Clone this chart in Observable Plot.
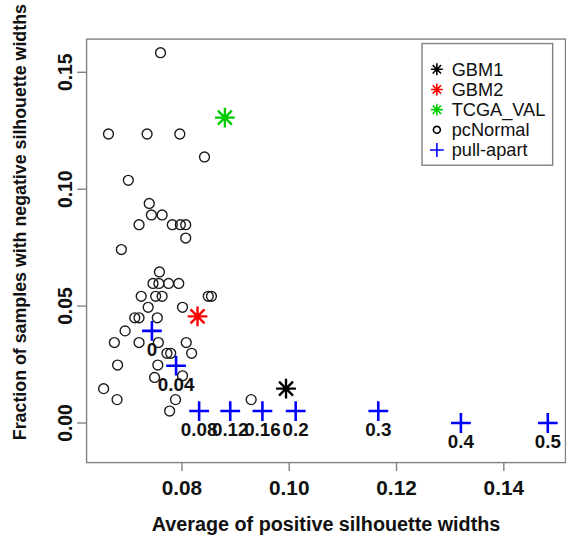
<!DOCTYPE html>
<html><head><meta charset="utf-8">
<script src="https://cdn.jsdelivr.net/npm/d3@7"></script>
<script src="https://cdn.jsdelivr.net/npm/@observablehq/plot@0.6"></script>
<style>html,body{margin:0;padding:0;background:#fff;overflow:hidden;} svg{display:block}</style>
</head><body><div id="chart"></div>
<script>
// ---- data ----
const pcNormalX = [0.0760,0.0663,0.0735,0.0796,0.0842,0.0700,0.0739,0.0743,0.0763,0.0720,0.0782,0.0797,0.0807,0.0807,0.0687,0.0758,0.0746,0.0757,0.0775,0.0794,0.0724,0.0751,0.0763,0.0849,0.0855,0.0737,0.0801,0.0712,0.0720,0.0754,0.0694,0.0674,0.0720,0.0756,0.0808,0.0772,0.0779,0.0818,0.0680,0.0755,0.0749,0.0801,0.0654,0.0679,0.0788,0.0777,0.0929];
const pcNormalY = [0.1584,0.1236,0.1236,0.1236,0.1138,0.1038,0.0939,0.0890,0.0890,0.0848,0.0848,0.0848,0.0848,0.0791,0.0742,0.0646,0.0597,0.0597,0.0597,0.0597,0.0542,0.0542,0.0542,0.0542,0.0542,0.0495,0.0495,0.0450,0.0450,0.0450,0.0394,0.0344,0.0344,0.0344,0.0344,0.0298,0.0298,0.0298,0.0248,0.0248,0.0195,0.0202,0.0147,0.0100,0.0100,0.0051,0.0100];
const pullApartX = [0.0744,0.0789,0.0832,0.0890,0.0950,0.1012,0.1166,0.1320,0.1482];
const pullApartY = [0.0394,0.0245,0.0051,0.0051,0.0051,0.0051,0.0051,0.0000,0.0000];
const pullApartLabels = ["0","0.04","0.08","0.12","0.16","0.2","0.3","0.4","0.5"];
const gbmNames = ["GBM1","GBM2","TCGA_VAL"];
const gbmX = [0.0994,0.0829,0.0880];
const gbmY = [0.0147,0.0456,0.1306];
const gbmColors = ["#000000","#ff0000","#00cd00"];
const xTicks = [0.08,0.10,0.12,0.14];
const xTickLabels = ["0.08","0.10","0.12","0.14"];
const yTicks = [0.00,0.05,0.10,0.15];
const yTickLabels = ["0.00","0.05","0.10","0.15"];
const legendLabels = ["GBM1","GBM2","TCGA_VAL","pcNormal","pull-apart"];
const legendColors = ["#000000","#ff0000","#00cd00","#000000","#0000ff"];
const xTitle = "Average of positive silhouette widths";
const yTitle = "Fraction of samples with negative silhouette widths";

// ---- symbols ----
const plusSym = {draw(ctx, size){const r=Math.sqrt(size/Math.PI);ctx.moveTo(-r,0);ctx.lineTo(r,0);ctx.moveTo(0,-r);ctx.lineTo(0,r);}};
const starSym = {draw(ctx, size){const r=Math.sqrt(size/Math.PI);const d=r/Math.SQRT2;
  ctx.moveTo(-r,0);ctx.lineTo(r,0);ctx.moveTo(0,-r);ctx.lineTo(0,r);
  ctx.moveTo(-d,-d);ctx.lineTo(d,d);ctx.moveTo(-d,d);ctx.lineTo(d,-d);}};

const normals = pcNormalX.map((x,i)=>({x, y: pcNormalY[i]}));
const pulls = pullApartX.map((x,i)=>({x, y: pullApartY[i], label: pullApartLabels[i]}));
const gbms = gbmNames.map((n,i)=>({name:n, x: gbmX[i], y: gbmY[i], color: gbmColors[i]}));

const FONT = "'Liberation Sans', Arial, Helvetica, sans-serif";
const gray = "#808080";

const chart = Plot.plot({
  width: 572, height: 543,
  marginLeft: 87, marginRight: 1, marginTop: 39, marginBottom: 76,
  x: {domain: [0.06222, 0.1515], axis: null},
  y: {domain: [-0.01693, 0.1642], axis: null},
  style: {fontFamily: FONT, background: "white", overflow: "visible"},
  marks: [
    Plot.frame({stroke: gray, strokeWidth: 1.4}),
    Plot.axisX({ticks: xTicks, tickSize: 9, stroke: gray, strokeWidth: 1.4, fill: "none"}),
    Plot.axisY({ticks: yTicks, tickSize: 9, stroke: gray, strokeWidth: 1.4, fill: "none"}),
    Plot.text(xTicks, {x: d=>d, text: (d,i)=>xTickLabels[i], frameAnchor: "bottom", lineAnchor: "middle", textAnchor: "middle", dy: 26.3, fontSize: 21, fontWeight: "bold", fill: "#111"}),
    Plot.text(yTicks, {y: d=>d, text: (d,i)=>yTickLabels[i], frameAnchor: "left", rotate: -90, textAnchor: "middle", lineAnchor: "bottom", dx: -15, fontSize: 19.5, fontWeight: "bold", fill: "#111"}),
    Plot.text([xTitle], {text: d=>d, frameAnchor: "bottom", lineAnchor: "middle", textAnchor: "middle", dy: 62.6, fontSize: 20, fontWeight: "bold", fill: "#111"}),
    Plot.text([yTitle], {text: d=>d, frameAnchor: "left", rotate: -90, textAnchor: "middle", lineAnchor: "middle", dx: -67, dy: -29, fontSize: 18, fontWeight: "bold", fill: "#111"}),
    Plot.dot(normals, {x: "x", y: "y", r: 5, stroke: "#1a1a1a", strokeWidth: 1.4, fill: "none"}),
    Plot.dot(pulls, {x: "x", y: "y", r: 10, symbol: plusSym, stroke: "#0000ff", strokeWidth: 2.6, fill: "none"}),
    Plot.text(pulls, {x: "x", y: "y", text: "label", dy: 19.5, fontSize: 19, fontWeight: "bold", fill: "#111"}),
    Plot.dot(gbms, {x: "x", y: "y", r: 10, symbol: starSym, stroke: d=>d.color, strokeWidth: 2.4, fill: "none"})
  ]
});
document.getElementById("chart").appendChild(chart);

// ---- legend ----
const svg = d3.select(chart);
const lg = svg.append("g").attr("font-family", FONT).attr("text-anchor", "start");
lg.append("rect").attr("x", 426.5).attr("y", 44).attr("width", 132).attr("height", 123)
  .attr("fill", "white").attr("stroke", gray).attr("stroke-width", 1.4);
const legendSyms = [starSym, starSym, starSym, d3.symbolCircle, plusSym];
const legendSizes = [Math.PI*36, Math.PI*36, Math.PI*36, Math.PI*12.25, Math.PI*49];
legendLabels.forEach((lab, i) => {
  const cy = 70 + i*20.4;
  lg.append("path").attr("transform", `translate(441.5,${cy})`)
    .attr("d", d3.symbol(legendSyms[i], legendSizes[i])())
    .attr("fill", "none").attr("stroke", legendColors[i]).attr("stroke-width", 1.6);
  lg.append("text").attr("x", 456.5).attr("y", cy).attr("dy", "0.35em")
    .attr("font-size", 18.4).attr("fill", "#111").attr("text-anchor", "start").text(lab);
});
</script>
</body></html>
